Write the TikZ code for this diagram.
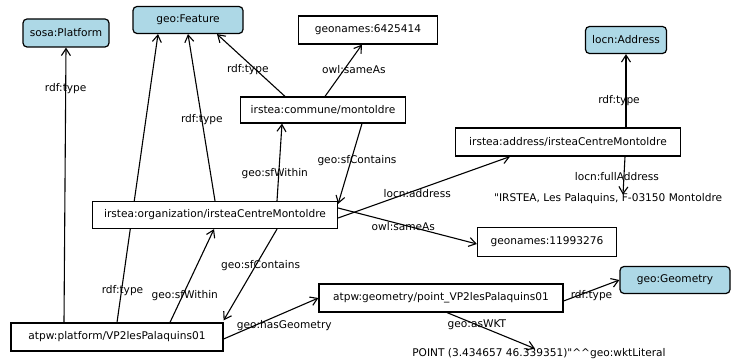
\documentclass[tikz,border=0pt]{standalone}
\usepackage{fontspec}
\setmainfont{DejaVu Sans}[Ligatures=TeXOff]
\usetikzlibrary{arrows.meta,backgrounds}
\definecolor{clsblue}{HTML}{ADD8E6}
\begin{document}
\begin{tikzpicture}[x=1pt,y=-1pt,
  every node/.style={font=\fontsize{10.6}{13}\selectfont},
  res/.style={draw,line width=1.2pt,fill=white,inner sep=0pt},
  cls/.style={res,fill=clsblue,rounded corners=4pt},
  lit/.style={inner sep=0pt},
  lbl/.style={inner sep=1pt},
  edge/.style={line width=1.1pt,-{Straight Barb[length=7pt,width=9pt,line width=1.1pt]}}]
\useasboundingbox (0,0) rectangle (734,363);
% nodes
\node[cls,minimum width=86pt,minimum height=28pt] (sosa) at (66,33) {sosa:Platform};
\node[cls,minimum width=110pt,minimum height=27pt] (feat) at (188,20) {geo:Feature};
\node[res,minimum width=139pt,minimum height=28pt] (gn1) at (368,30) {geonames:6425414};
\node[res,minimum width=165pt,minimum height=26pt] (comm) at (323,110) {irstea:commune/montoldre};
\node[cls,minimum width=81pt,minimum height=27pt] (locnA) at (626,40) {locn:Address};
\node[res,minimum width=225pt,minimum height=28pt] (addr) at (568,142) {irstea:address/irsteaCentreMontoldre};
\node[lit,anchor=west] (litA) at (494,199) {"IRSTEA, Les Palaquins, F-03150 Montoldre};
\node[res,minimum width=245pt,minimum height=27pt] (org) at (215,215) {irstea:organization/irsteaCentreMontoldre};
\node[res,minimum width=139pt,minimum height=29pt] (gn2) at (547,242) {geonames:11993276};
\node[res,minimum width=244pt,minimum height=28pt] (geom) at (441,298) {atpw:geometry/point\_VP2lesPalaquins01};
\node[cls,minimum width=110pt,minimum height=27pt] (geoG) at (675,280) {geo:Geometry};
\node[res,minimum width=212pt,minimum height=28pt] (plat) at (117,337) {atpw:platform/VP2lesPalaquins01};
\node[lit] (litP) at (539,354) {POINT (3.434657 46.339351)"\textasciicircum\textasciicircum geo:wktLiteral};
% edges
\begin{scope}[on background layer]
\draw[edge] ([xshift=-53pt]plat.north) -- node[lbl,pos=0.85] {rdf:type} (sosa.south);
\draw[edge] (plat.north) -- node[lbl,pos=0.11,xshift=1pt] {rdf:type} ([xshift=-30pt]feat.south);
\draw[edge] (org.north) -- node[lbl,pos=0.49] {rdf:type} (feat.south);
\draw[edge] ([xshift=-38pt]comm.north) -- node[lbl,pos=0.43,xshift=-8pt] {rdf:type} ([xshift=29pt]feat.south);
\draw[edge] ([xshift=2pt]comm.north) -- node[lbl,pos=0.51,xshift=10pt] {owl:sameAs} ([xshift=-6pt]gn1.south);
\draw[edge] ([xshift=62pt]org.north) -- node[lbl,pos=0.35,xshift=-4pt] {geo:sfWithin} ([xshift=-41pt]comm.south);
\draw[edge] ([xshift=39pt]comm.south) -- node[lbl,pos=0.46,xshift=6pt] {geo:sfContains} ([yshift=-3pt]org.north east);
\draw[edge] ([yshift=-3pt]org.east) -- node[lbl,pos=0.46,yshift=-4pt] {locn:address} ([xshift=-58pt]addr.south);
\draw[edge] ([yshift=7pt]org.east) -- node[lbl,pos=0.47,yshift=-2pt] {owl:sameAs} ([yshift=-2pt]gn2.west);
\draw[edge] ([xshift=58pt]addr.north) -- node[lbl,pos=0.37,xshift=-7pt] {rdf:type} ([xshift=58pt]addr.north |- locnA.south);
\draw[edge] ([xshift=57pt]addr.south) -- node[lbl,pos=0.53,xshift=-7pt] {locn:fullAddress} ([xshift=55pt,yshift=-1pt]addr.south |- litA.north);
\draw[edge] ([xshift=53pt]plat.north) -- node[lbl,pos=0.29,xshift=2pt] {geo:sfWithin} ([xshift=-1pt]org.south);
\draw[edge] ([xshift=62pt]org.south) -- node[lbl,pos=0.4,xshift=5pt] {geo:sfContains} ([yshift=2pt]plat.north east);
\draw[edge] ([yshift=-2pt]plat.east) -- node[lbl,pos=0.64,yshift=-13pt] {geo:hasGeometry} (geom.west);
\draw[edge] ([yshift=-3pt]geom.east) -- node[lbl,pos=0.5,yshift=-5pt] {rdf:type} (geoG.west);
\draw[edge] ([xshift=6pt]geom.south) -- node[lbl,pos=0.34] {geo:asWKT} ([xshift=-4pt]litP.north);
\end{scope}
\end{tikzpicture}
\end{document}
